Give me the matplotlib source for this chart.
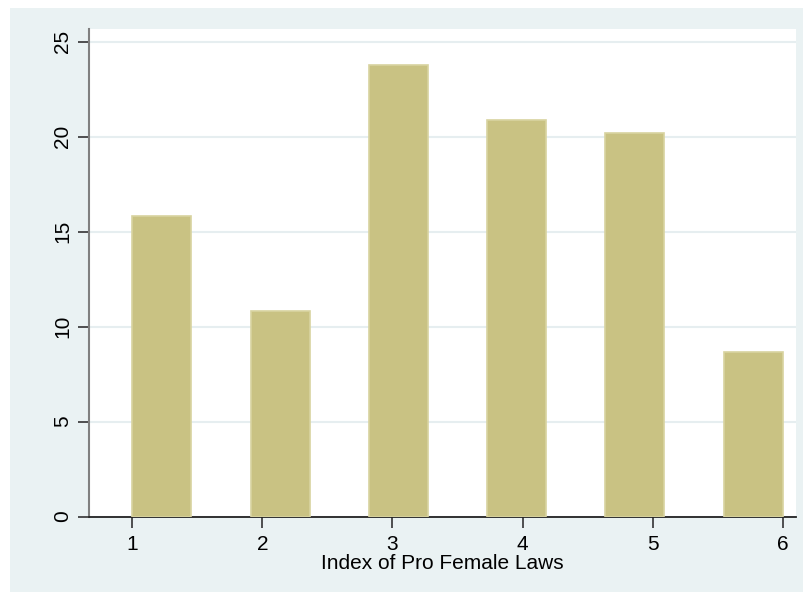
import numpy as np
import matplotlib.pyplot as plt
from matplotlib.patches import Rectangle

# percent of countries per index value
index_vals = [1, 2, 3, 4, 5, 6]
percent = [15.84, 10.84, 23.77, 20.89, 20.17, 8.68]
yticks = [0, 5, 10, 15, 20, 25]
xticks = [1, 2, 3, 4, 5, 6]

plt.rcParams['font.family'] = ['Liberation Sans', 'DejaVu Sans']

W, H = 804, 592
fig = plt.figure(figsize=(W / 100, H / 100), dpi=100)
fig.patch.set_facecolor('white')
# stata-ish outer panel, kept under the axes
fig.patches.append(Rectangle((10 / W, 0), 1 - 10 / W, (H - 8) / H,
                             transform=fig.transFigure, facecolor='#eaf2f3',
                             edgecolor='none', zorder=-5))

ax = fig.add_axes([89 / W, (H - 516.5) / H, (796 - 89) / W, (516.5 - 29) / H])
ax.set_facecolor('white')

# histogram-like bars: spread from 1 to 6, bar width = half the step
n = len(index_vals)
step = (index_vals[-1] - index_vals[0]) / (n - 0.5)
width = step / 2
lefts = index_vals[0] + np.arange(n) * step
ax.bar(lefts, percent, width=width, align='edge', color='#c9c283',
       edgecolor='#d8d3a0', linewidth=1.2, zorder=3)

ax.set_xlim(0.667, 6.102)
ax.set_ylim(0, 25.66)
ax.set_yticks(yticks)
ax.set_xticks(xticks)
ax.yaxis.grid(True, color='#e6eef0', linewidth=1.5, zorder=0)
ax.set_axisbelow(True)

for s in ['top', 'right']:
    ax.spines[s].set_visible(False)
ax.spines['left'].set_color('#808080')
ax.spines['left'].set_linewidth(1.5)
ax.spines['bottom'].set_color('#222222')
ax.spines['bottom'].set_linewidth(1.3)

ax.tick_params(axis='both', length=8, width=1.2, color='#333333', labelsize=15)
ax.tick_params(axis='y', pad=4)
ax.tick_params(axis='x', pad=5)
for lab in ax.get_yticklabels():
    lab.set_rotation(90)
    lab.set_va('center')

ax.set_xlabel('Index of Pro Female Laws', fontsize=15, labelpad=0)

fig.savefig('out.png', dpi=100)
